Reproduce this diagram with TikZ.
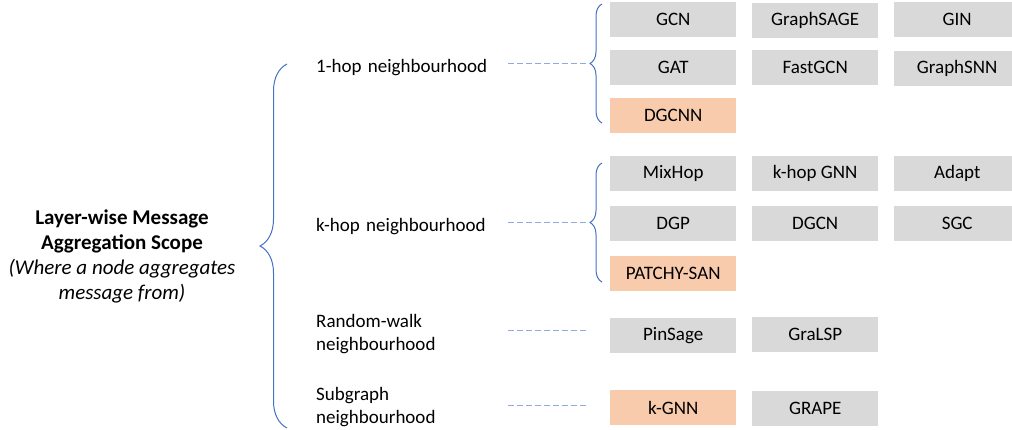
\documentclass[tikz,border=0pt]{standalone}
\usepackage{fontspec}
\setmainfont{Carlito}
\usetikzlibrary{matrix, positioning, calc, decorations.pathreplacing}

\definecolor{boxgray}{HTML}{D9D9D9}
\definecolor{boxpeach}{HTML}{F8CBAD}
\definecolor{braceblue}{HTML}{4472C4}
\definecolor{dashblue}{HTML}{8FAADC}

\tikzset{
  algo/.style={fill=boxgray, minimum width=126pt, minimum height=35pt,
    inner sep=0pt, font=\fontsize{19}{23}\selectfont},
  picked/.style={fill=boxpeach},
  scopelabel/.style={anchor=west, text width=178pt, align=left, inner sep=0pt,
    font=\fontsize{19}{23}\selectfont},
  curly/.style={draw=braceblue, line width=1pt, decorate,
    decoration={brace, amplitude=#1}},
  link/.style={draw=dashblue, line width=1pt, dash pattern=on 6pt off 3pt,
    shorten <=14pt},
}

\begin{document}
\begin{tikzpicture}[x=1pt, y=-1pt]
\useasboundingbox (0,0) rectangle (1012,429);

% title and the big brace
\node (title) [align=center, font=\fontsize{21}{25}\selectfont] at (122,256)
  {\textbf{Layer-wise Message}\\\textbf{Aggregation Scope}\\
   \textit{(Where a node aggregates}\\\textit{message from)}};
\coordinate (top) at (287,64);
\coordinate (bot) at (287,428);
\draw[curly=27pt] (bot) -- (top);

% scopes
\node (hop1) [scopelabel] at (316,68) {1-hop neighbourhood};
\node (hopk) [scopelabel] at (316,227) {k-hop neighbourhood};
\node (walk) [scopelabel] at (316,334) {Random-walk\\neighbourhood};
\node (sub) [scopelabel] at (316,407) {Subgraph\\neighbourhood};

% models per scope
\matrix (g1) [matrix of nodes, nodes={algo}, column sep=16pt, row sep=12pt,
    anchor=north west, inner sep=0pt] at (610,2)
    {GCN & GraphSAGE & GIN\\
    GAT & FastGCN & GraphSNN\\
    |[picked]| DGCNN\\};
\matrix (g2) [matrix of nodes, nodes={algo}, column sep=16pt, row sep=15pt,
    anchor=north west, inner sep=0pt] at (610,156)
    {MixHop & k-hop GNN & Adapt\\
    DGP & DGCN & SGC\\
    |[picked]| PATCHY-SAN\\};
\matrix (g3) [matrix of nodes, nodes={algo}, column sep=16pt,
    anchor=north west, inner sep=0pt] at (610,317)
    {PinSage & GraLSP\\};
\matrix (g4) [matrix of nodes, nodes={algo}, column sep=16pt,
    anchor=north west, inner sep=0pt] at (610,390)
    {|[picked]| k-GNN & GRAPE\\};

% small braces and dashed links
\coordinate (b1t) at (602,4);
\coordinate (b1b) at (602,123);
\coordinate (b2t) at (602,163);
\coordinate (b2b) at (602,282);
\draw[curly=12pt] (b1b) -- (b1t);
\draw[curly=12pt] (b2b) -- (b2t);
\coordinate (t1) at ($(b1t)!.5!(b1b)+(-12,0)$);
\coordinate (t2) at ($(b2t)!.5!(b2b)+(-12,0)$);
\coordinate (t3) at (587,330);
\coordinate (t4) at (587,405);
\draw[link] (hop1.east |- t1) -- (t1);
\draw[link] (hopk.east |- t2) -- (t2);
\draw[link] (walk.east |- t3) -- (t3);
\draw[link] (sub.east |- t4) -- (t4);
\end{tikzpicture}
\end{document}
